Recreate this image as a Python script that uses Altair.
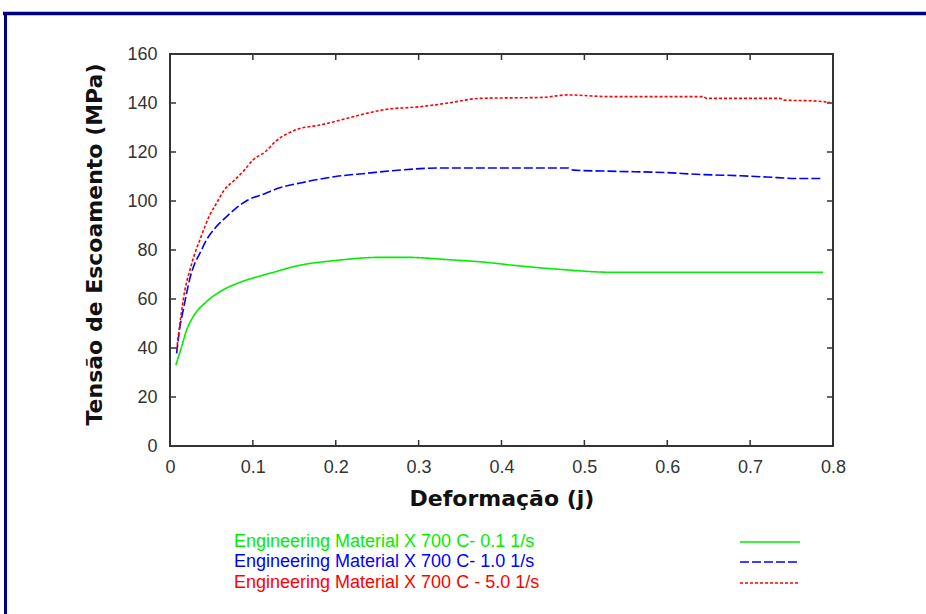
import altair as alt
import pandas as pd

# Flow-stress curves of Engineering Material X at 700 C for three strain rates
strain_slow = [0.007, 0.014, 0.020, 0.028, 0.044, 0.064, 0.086, 0.110, 0.127, 0.149,
               0.205, 0.253, 0.286, 0.338, 0.374, 0.422, 0.470, 0.535, 0.600, 0.700, 0.788]
stress_slow = [33.0, 40.5, 47.3, 52.8, 58.9, 63.7, 67.0, 69.5, 71.1, 73.2,
               75.9, 77.0, 77.0, 76.0, 75.2, 73.5, 72.1, 70.9, 70.9, 70.9, 70.9]

strain_mid = [0.008, 0.012, 0.016, 0.020, 0.024, 0.030, 0.036, 0.044, 0.054, 0.066,
              0.078, 0.094, 0.115, 0.125, 0.165, 0.200, 0.237, 0.280, 0.330, 0.374,
              0.480, 0.487, 0.539, 0.599, 0.635, 0.688, 0.720, 0.756, 0.786]
stress_mid = [37.8, 48.7, 55.5, 62.3, 68.4, 74.6, 78.6, 84.1, 88.8, 92.9,
              96.6, 100.4, 103.1, 104.5, 107.9, 110.0, 111.3, 112.7, 113.5, 113.5,
              113.5, 112.6, 112.1, 111.6, 110.9, 110.3, 109.8, 109.2, 109.2]

strain_fast = [0.008, 0.012, 0.018, 0.024, 0.030, 0.036, 0.042, 0.048, 0.056, 0.064,
               0.078, 0.090, 0.100, 0.115, 0.127, 0.153, 0.181, 0.213, 0.261, 0.302,
               0.334, 0.374, 0.450, 0.479, 0.531, 0.644, 0.647, 0.736, 0.740, 0.780, 0.796]
stress_fast = [39.2, 50.1, 63.7, 71.8, 78.6, 84.1, 89.5, 94.3, 99.0, 103.8,
               108.6, 112.7, 116.7, 120.1, 124.2, 129.2, 131.0, 133.7, 137.4, 138.5,
               139.9, 141.9, 142.3, 143.3, 142.6, 142.6, 141.9, 141.9, 141.2, 140.8, 140.3]

series_labels = [
    "Engineering Material X  700 C- 0.1 1/s",
    "Engineering Material X  700 C- 1.0 1/s",
    "Engineering Material X  700 C - 5.0 1/s",
]
series_colors = ["#00ee00", "#0000ff", "#ff0000"]
series_dashes = [[1, 0], [9, 3], [3, 2]]

x_ticks = [0, 0.1, 0.2, 0.3, 0.4, 0.5, 0.6, 0.7, 0.8]
y_ticks = [0, 20, 40, 60, 80, 100, 120, 140, 160]

W, H = 663, 392
FRAME = "#333333"
NAVY = "#000080"

x_scale = alt.Scale(domain=[0, 0.8], nice=False, zero=False)
y_scale = alt.Scale(domain=[0, 160], nice=False)

x_axis = alt.Axis(
    values=x_ticks, format=".1f", labelExpr="datum.value == 0 ? '0' : datum.label",
    title="Deformação (j)", tickSize=0, domain=False, grid=False, labelFlush=False,
    labelFont="Liberation Sans", labelFontSize=18, labelColor=FRAME, labelPadding=12,
    titleFont="DejaVu Sans", titleFontWeight="bold", titleFontSize=22, titleColor="#111111",
    titleX=W / 2, titleY=52, titleBaseline="middle", titleAlign="center",
)
y_axis = alt.Axis(
    values=y_ticks, title="Tensão de Escoamento (MPa)", tickSize=0, domain=False, grid=False,
    labelFlush=False,
    labelFont="Liberation Sans", labelFontSize=18, labelColor=FRAME, labelPadding=13,
    titleFont="DejaVu Sans", titleFontWeight="bold", titleFontSize=22, titleColor="#111111",
    titleX=-76, titleY=H / 2 - 6, titleAngle=-90, titleBaseline="middle", titleAlign="center",
)

frames = []
for xs, ys, label in zip([strain_slow, strain_mid, strain_fast],
                         [stress_slow, stress_mid, stress_fast], series_labels):
    frames.append(pd.DataFrame({"strain": xs, "stress": ys, "series": label}))
curves = pd.concat(frames, ignore_index=True)

layers = []
# inward tick marks on all four sides of the frame
xt = pd.DataFrame({"v": x_ticks[1:-1]})
yt = pd.DataFrame({"v": y_ticks[1:-1]})
tick_style = dict(color=FRAME, strokeWidth=1.5)
layers.append(alt.Chart(xt).mark_rule(**tick_style).encode(
    x=alt.X("v:Q", scale=x_scale, axis=x_axis), y=alt.value(H), y2=alt.value(H - 6)))
layers.append(alt.Chart(xt).mark_rule(**tick_style).encode(
    x=alt.X("v:Q", scale=x_scale), y=alt.value(0), y2=alt.value(6)))
layers.append(alt.Chart(yt).mark_rule(**tick_style).encode(
    y=alt.Y("v:Q", scale=y_scale, axis=y_axis), x=alt.value(0), x2=alt.value(6)))
layers.append(alt.Chart(yt).mark_rule(**tick_style).encode(
    y=alt.Y("v:Q", scale=y_scale), x=alt.value(W), x2=alt.value(W - 6)))

# the three flow curves
for label, color, dash in zip(series_labels, series_colors, series_dashes):
    layers.append(
        alt.Chart(curves).transform_filter(alt.datum.series == label)
        .mark_line(color=color, strokeDash=dash, strokeWidth=1.6, interpolate="monotone")
        .encode(x=alt.X("strain:Q", scale=x_scale),
                y=alt.Y("stress:Q", scale=y_scale),
                order="strain:Q")
    )

# key below the plot: label text on the left, line sample on the right
one = pd.DataFrame({"k": [0]})
key_rows = [488, 508, 529]
for label, color, dash, ky in zip(series_labels, series_colors, series_dashes, key_rows):
    layers.append(alt.Chart(one).mark_text(
        text=label, color=color, font="Liberation Sans", fontSize=18,
        align="left", baseline="middle").encode(x=alt.value(64), y=alt.value(ky)))
    layers.append(alt.Chart(one).mark_rule(color=color, strokeDash=dash, strokeWidth=1.6).encode(
        x=alt.value(570), x2=alt.value(630), y=alt.value(ky)))

# navy page border along the top and left edges
layers.append(alt.Chart(one).mark_rule(color=NAVY, strokeWidth=3.5).encode(
    x=alt.value(-167), x2=alt.value(760), y=alt.value(-40.5)))
layers.append(alt.Chart(one).mark_rule(color=NAVY, strokeWidth=3).encode(
    x=alt.value(-164.5), y=alt.value(-42), y2=alt.value(570)))

chart = alt.layer(*layers).properties(
    width=W, height=H,
    autosize=alt.AutoSizeParams(type="none"),
    padding={"left": 170, "top": 54, "right": 93, "bottom": 168},
    background="white",
).configure_view(stroke=FRAME, strokeWidth=2)

chart.save("out.html", embed_options={"renderer": "svg", "actions": False})
